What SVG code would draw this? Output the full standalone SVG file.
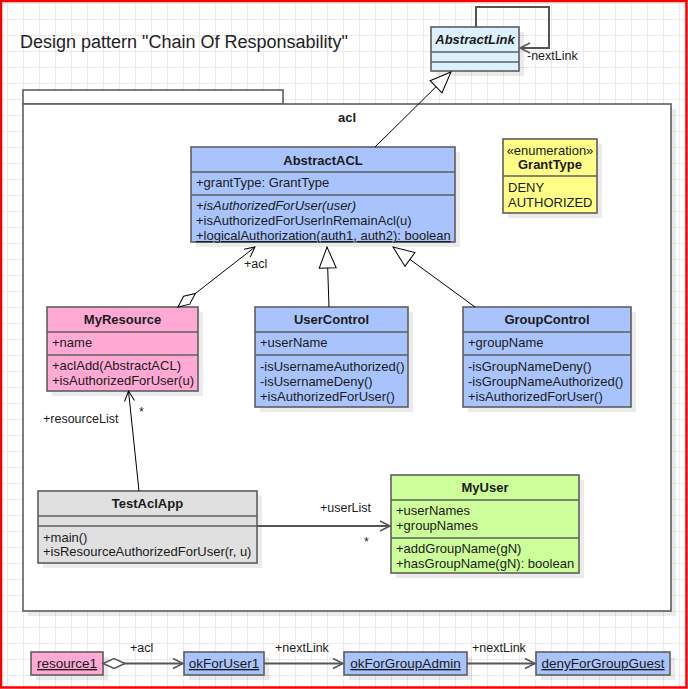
<svg xmlns="http://www.w3.org/2000/svg" width="688" height="689" viewBox="0 0 688 689">
<defs>
<pattern id="grid" x="7" y="3" width="16" height="16" patternUnits="userSpaceOnUse"><path d="M0.5 0V16M0 0.5H16" stroke="#ebebeb" stroke-width="1" fill="none"/></pattern>
<marker id="tri" markerUnits="userSpaceOnUse" markerWidth="24" markerHeight="22" viewBox="-1 -1 24 22" refX="21" refY="9" orient="auto" overflow="visible"><path d="M0,0.5 L21,9 L0,17.5 Z" fill="#fff" stroke="#000" stroke-width="1"/></marker>
<marker id="arr" markerUnits="userSpaceOnUse" markerWidth="14" markerHeight="14" viewBox="-1 -1 14 14" refX="10" refY="5" orient="auto" overflow="visible"><path d="M0,0 L10,5 L0,10" fill="none" stroke="#000" stroke-width="1"/></marker>
<marker id="arrG" markerUnits="userSpaceOnUse" markerWidth="14" markerHeight="14" viewBox="-1 -1 14 14" refX="10" refY="5" orient="auto" overflow="visible"><path d="M0,0 L10,5 L0,10" fill="none" stroke="#555" stroke-width="1.5"/></marker>
<marker id="dia" markerUnits="userSpaceOnUse" markerWidth="26" markerHeight="14" viewBox="-1 -1 26 14" refX="0" refY="5" orient="auto" overflow="visible"><path d="M0,5 L11,0 L22,5 L11,10 Z" fill="#fff" stroke="#000" stroke-width="1"/></marker>
<marker id="diaG" markerUnits="userSpaceOnUse" markerWidth="26" markerHeight="14" viewBox="-1 -1 26 14" refX="0" refY="5" orient="auto" overflow="visible"><path d="M0,5 L11,0 L22,5 L11,10 Z" fill="#fff" stroke="#555" stroke-width="1.5"/></marker>
</defs>
<style>
text{font-family:"Liberation Sans",Arial,sans-serif;font-size:13px;fill:#1a1a1a}
.t{font-weight:bold;text-anchor:middle}
.c{text-anchor:middle}
.box{stroke:#5e5e5e;stroke-width:1.6}
.sep{stroke:#5e5e5e;stroke-width:1.6}
.sh{fill:#000;fill-opacity:0.08}
.blue{fill:#a9c4fc}
.pink{fill:#ffa9d4}
.e1{fill:none;stroke:#000;stroke-width:1}
.e2{fill:none;stroke:#555;stroke-width:2}
.u{text-decoration:underline}
.lbl{font-size:12.5px}
.obj{font-size:13.5px}
</style>
<rect width="688" height="689" fill="#fff"/>
<rect width="688" height="689" fill="url(#grid)"/>
<rect x="1" y="1" width="685.5" height="686.5" fill="none" stroke="#ff0000" stroke-width="2.5"/>

<text x="20" y="48" style="font-size:18px;fill:#222">Design pattern "Chain Of Responsability"</text>

<g id="pkg-acl">
<rect x="28" y="109" width="648" height="507" class="sh"/>
<rect x="23" y="90" width="260" height="14" fill="#fff" class="box"/>
<rect x="23" y="104" width="648" height="507" fill="#fff" class="box"/>
<text x="347" y="122" class="t">acl</text>
</g>

<g id="AbstractLink">
<rect x="436" y="32" width="88" height="44" class="sh"/>
<rect x="431" y="27" width="88" height="44" fill="#dbf1fd" class="box"/>
<line x1="431" y1="52" x2="519" y2="52" class="sep"/>
<line x1="431" y1="62" x2="519" y2="62" class="sep"/>
<text x="475" y="44" class="t" font-style="italic">AbstractLink</text>
</g>

<g id="AbstractACL">
<rect x="196" y="152" width="264" height="95" class="sh"/>
<rect x="191" y="147" width="264" height="95" class="box blue"/>
<line x1="191" y1="172" x2="455" y2="172" class="sep"/>
<line x1="191" y1="195" x2="455" y2="195" class="sep"/>
<text x="323" y="165" class="t">AbstractACL</text>
<text x="196" y="187">+grantType: GrantType</text>
<text x="196" y="210" font-style="italic">+isAuthorizedForUser(user)</text>
<text x="196" y="225">+isAuthorizedForUserInRemainAcl(u)</text>
<text x="196" y="240" class="u">+logicalAuthorization(auth1, auth2): boolean</text>
</g>

<g id="GrantType">
<rect x="508" y="144" width="94" height="74" class="sh"/>
<rect x="503" y="139" width="94" height="74" fill="#ffff88" class="box"/>
<line x1="503" y1="176" x2="597" y2="176" class="sep"/>
<text x="550" y="155" class="c">«enumeration»</text>
<text x="550" y="169" class="t">GrantType</text>
<text x="508" y="192">DENY</text>
<text x="508" y="207">AUTHORIZED</text>
</g>

<g id="MyResource">
<rect x="52" y="312" width="151" height="84" class="sh"/>
<rect x="47" y="307" width="151" height="84" class="box pink"/>
<line x1="47" y1="332" x2="198" y2="332" class="sep"/>
<line x1="47" y1="355" x2="198" y2="355" class="sep"/>
<text x="122.5" y="324" class="t">MyResource</text>
<text x="52" y="347">+name</text>
<text x="52" y="370">+aclAdd(AbstractACL)</text>
<text x="52" y="385">+isAuthorizedForUser(u)</text>
</g>

<g id="UserControl">
<rect x="260" y="312" width="153" height="100" class="sh"/>
<rect x="255" y="307" width="153" height="100" class="box blue"/>
<line x1="255" y1="332" x2="408" y2="332" class="sep"/>
<line x1="255" y1="355" x2="408" y2="355" class="sep"/>
<text x="331.5" y="324" class="t">UserControl</text>
<text x="260" y="347">+userName</text>
<text x="260" y="371">-isUsernameAuthorized()</text>
<text x="260" y="386">-isUsernameDeny()</text>
<text x="260" y="401">+isAuthorizedForUser()</text>
</g>

<g id="GroupControl">
<rect x="468" y="312" width="168" height="100" class="sh"/>
<rect x="463" y="307" width="168" height="100" class="box blue"/>
<line x1="463" y1="332" x2="631" y2="332" class="sep"/>
<line x1="463" y1="355" x2="631" y2="355" class="sep"/>
<text x="547" y="324" class="t">GroupControl</text>
<text x="468" y="347">+groupName</text>
<text x="468" y="371">-isGroupNameDeny()</text>
<text x="468" y="386">-isGroupNameAuthorized()</text>
<text x="468" y="401">+isAuthorizedForUser()</text>
</g>

<g id="TestAclApp">
<rect x="43" y="496" width="219" height="72" class="sh"/>
<rect x="38" y="491" width="219" height="72" fill="#e0e0e0" class="box"/>
<line x1="38" y1="516" x2="257" y2="516" class="sep"/>
<line x1="38" y1="526" x2="257" y2="526" class="sep"/>
<text x="147.5" y="508" class="t">TestAclApp</text>
<text x="43" y="542">+main()</text>
<text x="43" y="556">+isResourceAuthorizedForUser(r, u)</text>
</g>

<g id="MyUser">
<rect x="396" y="480" width="188" height="98" class="sh"/>
<rect x="391" y="475" width="188" height="98" fill="#ccff99" class="box"/>
<line x1="391" y1="500" x2="579" y2="500" class="sep"/>
<line x1="391" y1="538" x2="579" y2="538" class="sep"/>
<text x="485" y="492" class="t">MyUser</text>
<text x="396" y="515">+userNames</text>
<text x="396" y="530">+groupNames</text>
<text x="396" y="553">+addGroupName(gN)</text>
<text x="396" y="568">+hasGroupName(gN): boolean</text>
</g>

<g id="resource1">
<rect x="36" y="657" width="72" height="23" class="sh"/>
<rect x="31" y="652" width="72" height="23" class="box pink"/>
<text x="67" y="668" class="c u obj">resource1</text>
</g>
<g id="okForUser1">
<rect x="189" y="657" width="80" height="23" class="sh"/>
<rect x="184" y="652" width="80" height="23" class="box blue"/>
<text x="224" y="668" class="c u obj">okForUser1</text>
</g>
<g id="okForGroupAdmin">
<rect x="349" y="657" width="123" height="23" class="sh"/>
<rect x="344" y="652" width="123" height="23" class="box blue"/>
<text x="405.5" y="668" class="c u obj">okForGroupAdmin</text>
</g>
<g id="denyForGroupGuest">
<rect x="541" y="657" width="134" height="23" class="sh"/>
<rect x="536" y="652" width="134" height="23" class="box blue"/>
<text x="603" y="668" class="c u obj">denyForGroupGuest</text>
</g>

<g id="connectors">
<path d="M476,27 V7 H549 V48 H520" class="e2" marker-end="url(#arrG)"/>
<text x="527" y="60" class="lbl">-nextLink</text>
<path d="M375,147 L451,72" class="e1" marker-end="url(#tri)"/>
<path d="M329,307 L327,247" class="e1" marker-end="url(#tri)"/>
<path d="M475,307 L393,247" class="e1" marker-end="url(#tri)"/>
<path d="M178,307 L255,247" class="e1" marker-start="url(#dia)" marker-end="url(#arr)"/>
<text x="244" y="268" class="lbl">+acl</text>
<path d="M139,491 L128.5,391" class="e1" marker-end="url(#arr)"/>
<text x="139" y="416" class="lbl">*</text>
<text x="43" y="423" class="lbl">+resourceList</text>
<path d="M257,526 H390" class="e2" marker-end="url(#arrG)"/>
<text x="320" y="512" class="lbl">+userList</text>
<text x="364" y="546" class="lbl">*</text>
<path d="M103,663.5 H183" class="e2" marker-start="url(#diaG)" marker-end="url(#arrG)"/>
<text x="130" y="652" class="lbl">+acl</text>
<path d="M264,663.5 H343" class="e2" marker-end="url(#arrG)"/>
<text x="275" y="652" class="lbl">+nextLink</text>
<path d="M467,663.5 H535" class="e2" marker-end="url(#arrG)"/>
<text x="472" y="652" class="lbl">+nextLink</text>
</g>
</svg>
